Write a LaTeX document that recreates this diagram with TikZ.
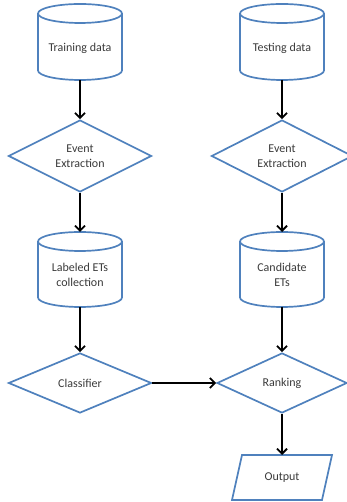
\documentclass[tikz,border=0pt]{standalone}
\usepackage{fontspec}
\setmainfont{Carlito}
\usetikzlibrary{shapes.geometric,arrows.meta}
\definecolor{flowblue}{HTML}{4F81BD}
\definecolor{labelgray}{HTML}{3A3A3A}

% outline of a data store drawn on top of a plain rectangle node
\newcommand\drumoutline[1]{%
  \draw[outline] ([yshift=-9.5pt]#1.north west) -- ([yshift=9.5pt]#1.south west)
    arc[start angle=180,end angle=360,x radius=42pt,y radius=9.5pt]
    -- ([yshift=-9.5pt]#1.north east);
  \draw[outline] ([yshift=-9.5pt]#1.north) ellipse[x radius=42pt,y radius=9.5pt];
}
% slanted input/output box drawn round a plain rectangle node
\newcommand\slantoutline[1]{%
  \draw[outline] ([xshift=5pt]#1.north west) -- ([xshift=5pt]#1.north east)
    -- ([xshift=-5pt]#1.south east) -- ([xshift=-5pt]#1.south west) -- cycle;
}

\begin{document}
\begin{tikzpicture}[x=1pt,y=1pt,
  outline/.style={draw=flowblue,line width=1.7pt,line join=miter},
  txt/.style={text=labelgray,font=\fontsize{12}{15}\selectfont,align=center},
  store/.style={txt,rectangle,minimum width=84pt,minimum height=#1,inner sep=0pt,outer sep=0pt},
  decision/.style={txt,diamond,outline,minimum width=#1,inner sep=0pt},
  flow/.style={line width=1.8pt,-{Straight Barb[length=5pt,width=10pt]}}
]
\useasboundingbox (0,0) rectangle (347,502);
\clip (0,0) rectangle (347,502);

% left column
\node[store=76pt] (train) at (80,460) {\strut\\[-4pt]Training data};
\node[decision=143pt,minimum height=58pt] (ee1) at (80,346) {Event\\Extraction};
\node[store=75pt] (labeled) at (80,232.5) {\strut\\[-6pt]Labeled ETs\\collection};
\node[decision=143pt,minimum height=60pt] (classifier) at (80,119) {Classifier};

% right column
\node[store=76pt] (test) at (282,460) {\strut\\[-4pt]Testing data};
\node[decision=141pt,minimum height=58pt] (ee2) at (282,346) {Event\\Extraction};
\node[store=75pt] (candidate) at (282,232.5) {\strut\\[-6pt]Candidate\\ETs};
\node[decision=130pt,minimum height=60pt] (ranking) at (282,119) {Ranking};
\node[txt,rectangle,minimum width=90pt,minimum height=45pt,inner sep=0pt,outer sep=0pt] (output) at (282,24.5) {Output};

\drumoutline{train}
\drumoutline{labeled}
\drumoutline{test}
\drumoutline{candidate}
\slantoutline{output}

% connectors
\draw[flow] (train.south) -- (ee1.north);
\draw[flow] (ee1.south) -- (labeled.north);
\draw[flow] (labeled.south) -- (classifier.north);
\draw[flow] (test.south) -- (ee2.north);
\draw[flow] (ee2.south) -- (candidate.north);
\draw[flow] (candidate.south) -- (ranking.north);
\draw[flow] (classifier.east) -- (ranking.west);
\draw[flow] (ranking.south) -- (output.north);
\end{tikzpicture}
\end{document}
